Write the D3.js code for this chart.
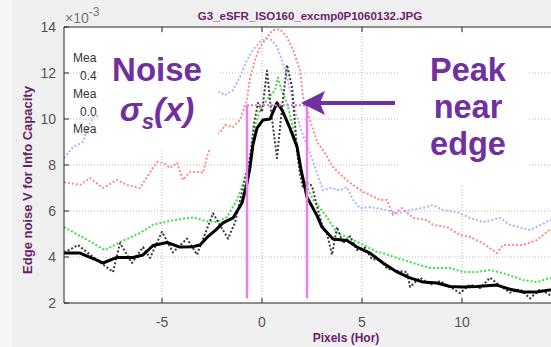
<!DOCTYPE html>
<html>
<head>
<meta charset="utf-8">
<script src="https://cdn.jsdelivr.net/npm/d3@7"></script>
<style>
  body { margin: 0; background: #f0f0f0; }
  svg { display: block; }
</style>
</head>
<body>
<script>
var W = 551, H = 347;

// chart values (edge noise, units of 1e-3)
var xTicks = [-5, 0, 5, 10];
var yTicks = [2, 4, 6, 8, 10, 12, 14];
var legendLines = ["Mea", "0.4", "Mea", "0.0", "Mea"];

var smoothX = [-9.9, -9.1, -8.5, -7.95, -7.25, -6.45, -5.95, -5.45, -4.75, -4.1, -3.45, -3.1, -2.75, -2.35, -1.95, -1.45, -1.0, -0.75, -0.6, -0.45, -0.25, 0.05, 0.4, 0.75, 1.0, 1.4, 1.75, 1.95, 2.25, 2.75, 3.0, 3.55, 4.25, 4.75, 5.4, 6.05, 6.75, 7.4, 8.05, 8.75, 9.4, 10.05, 10.75, 11.75, 12.4, 13.05, 13.75, 14.4, 14.8];
var smoothY = [4.17, 4.17, 3.95, 3.74, 3.98, 3.98, 4.09, 4.5, 4.63, 4.43, 4.45, 4.52, 4.85, 5.15, 5.48, 5.7, 6.35, 7.2, 7.9, 8.9, 9.6, 9.96, 10.0, 10.7, 10.4, 9.6, 8.8, 7.8, 6.6, 5.8, 5.3, 4.78, 4.72, 4.43, 4.17, 3.74, 3.35, 3.09, 2.91, 2.87, 2.72, 2.7, 2.72, 2.78, 2.6, 2.48, 2.48, 2.57, 2.5];

var rawX = [-9.9, -9.55, -9.2, -8.45, -7.45, -7.1, -6.5, -5.95, -5.6, -5.0, -4.45, -3.75, -3.25, -2.45, -1.7, -1.35, -0.95, -0.6, -0.4, -0.2, 0.0, 0.25, 0.5, 0.75, 1.0, 1.25, 1.5, 1.65, 1.75, 1.9, 2.05, 2.3, 2.5, 2.75, 3.0, 3.25, 3.5, 3.75, 4.05, 4.4, 4.75, 5.15, 5.5, 5.9, 6.25, 6.75, 7.25, 7.4, 7.9, 8.4, 8.9, 9.4, 9.9, 10.4, 10.9, 11.4, 11.9, 12.4, 12.9, 13.4, 13.9, 14.4, 14.8];
var rawY = [4.2, 4.35, 4.52, 4.0, 3.35, 4.6, 3.74, 4.43, 3.96, 5.1, 4.2, 4.8, 4.1, 5.9, 4.8, 5.5, 7.0, 8.3, 9.8, 10.7, 10.3, 12.1, 10.0, 8.3, 10.5, 12.35, 11.4, 9.8, 8.6, 7.6, 7.0, 7.2, 7.1, 6.2, 5.4, 5.0, 4.1, 5.3, 4.6, 4.9, 4.3, 4.4, 3.9, 3.9, 3.5, 3.4, 3.35, 2.7, 3.1, 2.8, 2.95, 2.7, 2.43, 2.8, 2.65, 3.1, 2.75, 2.45, 2.6, 2.2, 2.6, 2.35, 2.5];

var greenX = [-9.9, -9.0, -7.85, -7.1, -6.1, -5.45, -4.45, -3.45, -2.75, -2.25, -1.75, -1.25, -0.95, -0.75, -0.45, -0.35, -0.1, 0.3, 0.65, 0.8, 1.0, 1.25, 1.5, 1.75, 1.9, 2.25, 2.55, 3.25, 3.75, 4.25, 4.9, 5.75, 6.05, 6.75, 7.55, 8.4, 9.4, 10.05, 10.75, 11.4, 12.05, 13.05, 13.75, 14.4, 14.8];
var greenY = [5.3, 4.87, 4.3, 4.65, 5.04, 5.4, 5.6, 5.72, 5.55, 5.52, 5.74, 6.48, 7.2, 7.8, 8.95, 9.65, 10.4, 10.9, 11.26, 11.8, 11.2, 10.7, 9.8, 8.8, 7.8, 7.04, 6.5, 5.74, 5.04, 4.87, 4.6, 4.22, 4.17, 3.96, 3.74, 3.52, 3.52, 3.35, 3.35, 3.43, 3.3, 3.0, 2.91, 3.09, 3.0];

var redX = [-9.9, -9.1, -8.6, -7.95, -7.25, -6.75, -6.1, -5.75, -5.25, -4.95, -4.6, -4.25, -3.95, -3.6, -3.1, -2.95, -2.7, -2.3, -2.0, -1.85, -1.45, -1.1, -0.75, -0.6, -0.35, -0.1, 0.25, 0.55, 0.9, 1.25, 1.55, 1.9, 2.05, 2.4, 2.75, 3.05, 3.55, 4.05, 4.55, 5.05, 5.4, 5.9, 6.25, 6.55, 7.0, 7.55, 8.25, 8.55, 9.25, 9.9, 10.4, 11.05, 11.75, 12.05, 13.05, 13.75, 14.4, 14.8];
var redY = [7.26, 7.13, 7.43, 7.0, 7.35, 7.13, 7.0, 7.48, 8.13, 8.1, 7.87, 8.1, 7.35, 7.7, 7.7, 7.65, 8.52, 9.3, 9.52, 9.74, 9.65, 9.96, 10.83, 11.78, 12.56, 13.13, 13.56, 13.87, 13.9, 13.56, 13.0, 12.13, 10.96, 9.96, 9.0, 8.65, 7.91, 7.48, 7.13, 6.83, 6.7, 6.48, 6.48, 5.83, 6.13, 5.7, 5.6, 5.4, 5.3, 4.96, 4.87, 4.6, 4.17, 4.52, 4.52, 4.74, 5.2, 5.4];

var blueX = [-9.9, -9.45, -8.95, -8.75, -8.45, -7.0, -5.0, -3.5, -2.1, -1.85, -1.45, -1.1, -0.75, -0.45, -0.1, 0.25, 0.5, 0.75, 1.0, 1.25, 1.5, 1.75, 2.05, 2.4, 2.75, 3.05, 3.4, 3.9, 4.25, 4.55, 4.9, 5.4, 6.25, 6.75, 7.4, 8.05, 8.55, 9.05, 9.75, 10.4, 11.05, 11.9, 12.4, 13.4, 14.4, 14.8];
var blueY = [8.3, 8.78, 9.0, 9.5, 10.1, 10.4, 10.7, 11.0, 11.17, 11.04, 11.26, 11.83, 12.56, 13.0, 13.35, 13.5, 13.43, 13.13, 12.56, 11.83, 10.96, 10.1, 9.3, 8.52, 7.65, 6.9, 7.0, 6.9, 7.04, 6.48, 6.13, 6.17, 6.04, 5.9, 6.04, 6.13, 6.26, 6.04, 5.96, 5.7, 5.52, 5.7, 5.4, 5.17, 5.6, 5.5];

// peak level and the two edge markers
var peakLevel = 10.6;
var markerX = [-0.75, 2.25];
var markerBottom = 2.2;

function pairs(xs, ys) {
  return xs.map(function (x, i) { return [x, ys[i]]; });
}

var svg = d3.select("body").append("svg")
  .attr("width", W)
  .attr("height", H);

svg.append("rect").attr("width", W).attr("height", H).attr("fill", "#f0f0f0");
svg.append("rect").attr("width", 12).attr("height", H).attr("fill", "#f6f6f6");

var x = d3.scaleLinear().domain([-9.9, 14.7]).range([64, 556]);
var y = d3.scaleLinear().domain([2, 14]).range([303, 27]);

var defs = svg.append("defs");
defs.append("clipPath").attr("id", "plotclip")
  .append("rect").attr("x", 64).attr("y", 27).attr("width", 492).attr("height", 276);
defs.append("clipPath").attr("id", "legclip")
  .append("rect").attr("x", 60).attr("y", 40).attr("width", 37).attr("height", 110);

// plot background
svg.append("rect")
  .attr("x", 64).attr("y", 27)
  .attr("width", 492).attr("height", 276)
  .attr("fill", "#fff");

// grid
var grid = svg.append("g").attr("stroke", "#b8b8b8").attr("stroke-dasharray", "1,2");
grid.selectAll(".gx").data(xTicks).enter().append("line")
  .attr("x1", function (d) { return x(d); }).attr("x2", function (d) { return x(d); })
  .attr("y1", 27).attr("y2", 303);
grid.selectAll(".gy").data(yTicks.slice(1, -1)).enter().append("line")
  .attr("x1", 64).attr("x2", 556)
  .attr("y1", function (d) { return y(d); }).attr("y2", function (d) { return y(d); });

// lines
var line = d3.line()
  .x(function (d) { return x(d[0]); })
  .y(function (d) { return y(d[1]); });

var plot = svg.append("g").attr("clip-path", "url(#plotclip)").attr("fill", "none");

var series = [
  { data: pairs(blueX, blueY), color: "#aeb2ff", width: 2, dash: "2,2" },
  { data: pairs(redX, redY), color: "#ff8a8a", width: 2, dash: "2,2" },
  { data: pairs(greenX, greenY), color: "#3fe03f", width: 2, dash: "2,2" },
  { data: pairs(rawX, rawY), color: "#3a3a3a", width: 2, dash: "2,2" },
  { data: pairs(smoothX, smoothY), color: "#000", width: 3, dash: null }
];

plot.selectAll(".series").data(series).enter().append("path")
  .attr("class", "series")
  .attr("d", function (d) { return line(d.data); })
  .attr("stroke", function (d) { return d.color; })
  .attr("stroke-width", function (d) { return d.width; })
  .attr("stroke-dasharray", function (d) { return d.dash; })
  .attr("stroke-linejoin", "round");

// edge markers
plot.append("line")
  .attr("x1", x(markerX[0])).attr("x2", x(markerX[1]))
  .attr("y1", y(peakLevel)).attr("y2", y(peakLevel))
  .attr("stroke", "#e070e0").attr("stroke-width", 2).attr("stroke-dasharray", "2,2");
plot.selectAll(".mark").data(markerX).enter().append("line")
  .attr("x1", function (d) { return x(d); }).attr("x2", function (d) { return x(d); })
  .attr("y1", y(peakLevel)).attr("y2", y(markerBottom))
  .attr("stroke", "#f07cf0").attr("stroke-width", 2.5);

// axes box and ticks
var axis = svg.append("g").attr("stroke", "#262626").attr("stroke-width", 1);
axis.append("line").attr("x1", 64).attr("x2", 64).attr("y1", 27).attr("y2", 303);
axis.append("line").attr("x1", 64).attr("x2", 556).attr("y1", 303).attr("y2", 303);
axis.append("line").attr("x1", 64).attr("x2", 556).attr("y1", 27).attr("y2", 27);
axis.selectAll(".ty").data(yTicks).enter().append("line")
  .attr("x1", 64).attr("x2", 69)
  .attr("y1", function (d) { return y(d); }).attr("y2", function (d) { return y(d); });
axis.selectAll(".tb").data(xTicks).enter().append("line")
  .attr("x1", function (d) { return x(d); }).attr("x2", function (d) { return x(d); })
  .attr("y1", 303).attr("y2", 298);
axis.selectAll(".tt").data(xTicks).enter().append("line")
  .attr("x1", function (d) { return x(d); }).attr("x2", function (d) { return x(d); })
  .attr("y1", 27).attr("y2", 32);

// tick labels
var labels = svg.append("g")
  .attr("font-family", "Liberation Sans, Arial, sans-serif")
  .attr("font-size", 14)
  .attr("fill", "#555");
labels.selectAll(".ly").data(yTicks).enter().append("text")
  .attr("x", 56).attr("y", function (d) { return y(d); })
  .attr("dy", "0.35em").attr("text-anchor", "end")
  .text(function (d) { return d; });
labels.selectAll(".lx").data(xTicks).enter().append("text")
  .attr("x", function (d) { return x(d); }).attr("y", 327)
  .attr("text-anchor", "middle")
  .text(function (d) { return d; });

var expo = labels.append("text").attr("x", 65).attr("y", 23).attr("fill", "#777");
expo.append("tspan").text("\u00d710");
expo.append("tspan").attr("dy", -7).attr("font-size", 12).text("-3");

// title and axis labels
var purple = "#6b1f6b";
svg.append("text")
  .attr("x", 310).attr("y", 20)
  .attr("text-anchor", "middle")
  .attr("font-family", "Liberation Sans, Arial, sans-serif")
  .attr("font-size", 11.5).attr("font-weight", "bold")
  .attr("fill", purple)
  .text("G3_eSFR_ISO160_excmp0P1060132.JPG");
svg.append("text")
  .attr("transform", "translate(32,180) rotate(-90)")
  .attr("text-anchor", "middle")
  .attr("font-family", "Liberation Sans, Arial, sans-serif")
  .attr("font-size", 13).attr("font-weight", "bold")
  .attr("fill", purple)
  .text("Edge noise V for Info Capacity");
svg.append("text")
  .attr("x", 346).attr("y", 342)
  .attr("text-anchor", "middle")
  .attr("font-family", "Liberation Sans, Arial, sans-serif")
  .attr("font-size", 12).attr("font-weight", "bold")
  .attr("fill", purple)
  .text("Pixels (Hor)");

// legend text, partly hidden by the annotation
svg.append("g").attr("clip-path", "url(#legclip)")
  .attr("font-family", "Liberation Sans, Arial, sans-serif")
  .attr("font-size", 12).attr("fill", "#333")
  .selectAll("text").data(legendLines).enter().append("text")
  .attr("x", function (d, i) { return i % 2 ? 80 : 73; })
  .attr("y", function (d, i) { return 58 + i * 17.8; })
  .attr("dy", "0.35em")
  .text(function (d) { return d; });

// annotations: white text boxes
var note = "#7030a0";
svg.append("rect").attr("x", 98).attr("y", 36).attr("width", 120).attr("height", 114).attr("fill", "#fff");
svg.append("rect").attr("x", 400).attr("y", 36).attr("width", 128).attr("height", 150).attr("fill", "#fff");

var ann = svg.append("g")
  .attr("font-family", "Liberation Sans, Arial, sans-serif")
  .attr("font-weight", "bold")
  .attr("fill", note)
  .attr("text-anchor", "middle");

var noise = ann.append("text").attr("x", 157).attr("y", 81).attr("font-size", 33);
noise.append("tspan").attr("x", 157).text("Noise");
noise.append("tspan").attr("x", 157).attr("dy", 40).attr("font-style", "italic").text("\u03c3");
noise.append("tspan").attr("font-style", "italic").attr("font-size", 22).attr("dy", 8).text("s");
noise.append("tspan").attr("font-style", "italic").attr("dy", -8).text("(x)");

var peak = ann.append("text").attr("x", 468).attr("y", 81).attr("font-size", 32.5);
peak.selectAll("tspan").data(["Peak", "near", "edge"]).enter().append("tspan")
  .attr("x", 468)
  .attr("dy", function (d, i) { return i ? 37 : 0; })
  .text(function (d) { return d; });

// arrow
svg.append("line")
  .attr("x1", 318).attr("x2", 395).attr("y1", 103).attr("y2", 103)
  .attr("stroke", note).attr("stroke-width", 4);
svg.append("path")
  .attr("d", "M301,103 L325,91 L320,103 L325,115 Z")
  .attr("fill", note);
</script>
</body>
</html>
